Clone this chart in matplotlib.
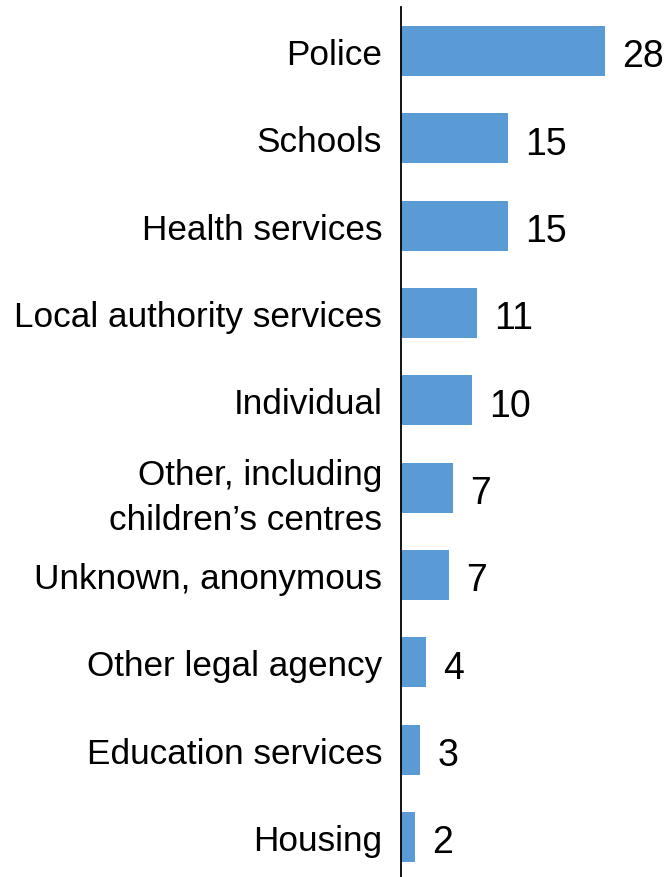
import numpy as np
import matplotlib.pyplot as plt

# категории и значения (значения оценены по длине столбцов)
categories = ["Police", "Schools", "Health services", "Local authority services",
              "Individual", "Other, including\nchildren\u2019s centres",
              "Unknown, anonymous", "Other legal agency", "Education services", "Housing"]
values = [28.0, 14.7, 14.7, 10.4, 9.7, 7.1, 6.6, 3.4, 2.6, 1.9]
value_labels = ["28", "15", "15", "11", "10", "7", "7", "4", "3", "2"]

fig = plt.figure(figsize=(6.69, 8.78), dpi=100)
ax = fig.add_axes([401 / 669, 0, 268 / 669, 870 / 878])

y = np.arange(len(categories))
ax.barh(y, values, height=0.57, color="#5b9bd5")

ax.set_xlim(0, 36.8)
ax.set_ylim(9.458, -0.504)

for yi, v, lab in zip(y, values, value_labels):
    ax.text(v + 2.4, yi + 0.06, lab, va="center", ha="left",
            fontsize=27, family="Liberation Sans", color="black")

ax.set_yticks(y)
ax.set_yticklabels(categories, fontsize=25.3, family="Liberation Sans",
                   linespacing=1.45, ha="right")
ax.tick_params(axis="y", length=0, pad=13.5)
ax.set_xticks([])

for s in ["top", "right", "bottom"]:
    ax.spines[s].set_visible(False)
ax.spines["left"].set_linewidth(1.3)
ax.spines["left"].set_color("black")

fig.savefig("out.png", dpi=100)
